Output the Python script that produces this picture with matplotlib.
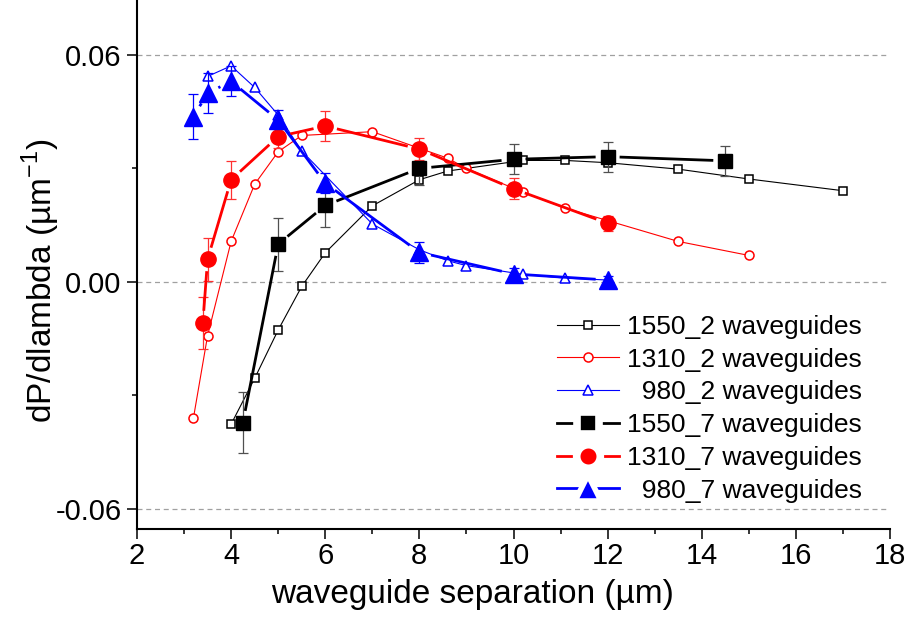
import numpy as np
import matplotlib
matplotlib.use('Agg')
import matplotlib.pyplot as plt
from matplotlib.lines import Line2D
from matplotlib.ticker import MultipleLocator, FormatStrFormatter

plt.rcParams['font.family'] = ['Liberation Sans', 'DejaVu Sans']
plt.rcParams['mathtext.fontset'] = 'custom'
plt.rcParams['mathtext.rm'] = 'Liberation Sans'
plt.rcParams['axes.unicode_minus'] = False

# 2 waveguides (open symbols, thin lines)
x1550_2 = [4, 4.5, 5, 5.5, 6, 7, 8, 8.6, 10.2, 11.1, 12, 13.5, 15, 17]
y1550_2 = [-0.0376, -0.0255, -0.0127, -0.0012, 0.0077, 0.0201, 0.0270, 0.0293,
           0.0321, 0.0321, 0.0315, 0.0298, 0.0272, 0.0241]
x1310_2 = [3.2, 3.5, 4, 4.5, 5, 5.5, 7, 8.6, 9, 10.2, 11.1, 13.5, 15]
y1310_2 = [-0.0359, -0.0142, 0.0107, 0.0258, 0.0344, 0.0387, 0.0397, 0.0327,
           0.0300, 0.0237, 0.0195, 0.0107, 0.0070]
x980_2 = [3.5, 4, 4.5, 5, 5.5, 7, 8, 8.6, 9, 10.2, 11.1, 12]
y980_2 = [0.0543, 0.0571, 0.0514, 0.0441, 0.0346, 0.0153, 0.0085, 0.0056,
          0.0043, 0.0020, 0.0010, 0.0005]

# 7 waveguides (filled symbols, thick lines, error bars)
x1550_7 = [4.25, 5, 6, 8, 10, 12, 14.5]
y1550_7 = [-0.0372, 0.0100, 0.0202, 0.0300, 0.0324, 0.0331, 0.0320]
e1550_7 = [0.0080, 0.0070, 0.0058, 0.0045, 0.0040, 0.0040, 0.0040]
x1310_7 = [3.4, 3.5, 4, 5, 6, 8, 10, 12]
y1310_7 = [-0.0108, 0.0060, 0.0270, 0.0384, 0.0412, 0.0351, 0.0246, 0.0155]
e1310_7 = [0.0069, 0.0057, 0.0050, 0.0030, 0.0040, 0.0030, 0.0028, 0.0020]
x980_7 = [3.2, 3.5, 4, 5, 6, 8, 10, 12]
y980_7 = [0.0437, 0.0499, 0.0530, 0.0428, 0.0261, 0.0078, 0.0021, 0.0005]
e980_7 = [0.0060, 0.0052, 0.0040, 0.0025, 0.0027, 0.0028, 0.0015, 0.0010]

labels = ['1550_2 waveguides', '1310_2 waveguides', '  980_2 waveguides',
          '1550_7 waveguides', '1310_7 waveguides', '  980_7 waveguides']

fig = plt.figure(figsize=(9.11, 6.23), dpi=100)
ax = fig.add_axes([137 / 911, 1 - 529 / 623, 753 / 911, 529 / 623])
ax.set_xlim(2, 18)
ax.set_ylim(-0.0653, 0.0745)


def gapped_line(x, y, color, lw, gap=12):
    # Origin-style: line segments stop short of the symbols (gap in pixels)
    pts = ax.transData.transform(np.column_stack([x, y]))
    inv = ax.transData.inverted()
    for p0, p1 in zip(pts[:-1], pts[1:]):
        d = p1 - p0
        L = np.hypot(*d)
        if L <= 2 * gap:
            continue
        u = d / L
        seg = inv.transform([p0 + u * gap, p1 - u * gap])
        ax.plot(seg[:, 0], seg[:, 1], color=color, lw=lw,
                solid_capstyle='butt', zorder=3)


# open series
ax.plot(x1550_2, y1550_2, color='black', lw=0.8, marker='s', ms=6,
        mfc='white', mec='black', mew=1.1, zorder=2)
ax.plot(x1310_2, y1310_2, color='red', lw=0.8, marker='o', ms=6.5,
        mfc='white', mec='red', mew=1.1, zorder=2)
ax.plot(x980_2, y980_2, color='blue', lw=0.8, marker='^', ms=7.5,
        mfc='white', mec='blue', mew=1.1, zorder=2)

# filled series
filled = [(x1550_7, y1550_7, e1550_7, 'black', '#505050', 's', 10),
          (x1310_7, y1310_7, e1310_7, 'red', '#ff3030', 'o', 11),
          (x980_7, y980_7, e980_7, 'blue', 'blue', '^', 13)]
for x, y, e, c, ec, m, ms in filled:
    ax.errorbar(x, y, yerr=e, fmt='none', ecolor=ec, elinewidth=0.9,
                capsize=3.8, capthick=0.9, zorder=3)
    gapped_line(x, y, c, 2.0)
    ax.plot(x, y, linestyle='none', marker=m, ms=ms, color=c, mec=c, zorder=4)

# axes styling
for s in ['top', 'right']:
    ax.spines[s].set_visible(False)
for s in ['left', 'bottom']:
    ax.spines[s].set_linewidth(1.5)
ax.xaxis.set_major_locator(MultipleLocator(2))
ax.xaxis.set_minor_locator(MultipleLocator(1))
ax.yaxis.set_major_locator(MultipleLocator(0.06))
ax.yaxis.set_minor_locator(MultipleLocator(0.03))
ax.yaxis.set_major_formatter(FormatStrFormatter('%.2f'))
ax.tick_params(which='major', direction='out', length=7.2, width=1.1,
               labelsize=21, pad=2.5)
ax.tick_params(axis='y', which='major', pad=3.8)
ax.tick_params(which='minor', direction='out', length=3.6, width=1.1)
ax.yaxis.grid(True, which='major', color='#a0a0a0', lw=0.9,
              linestyle=(0, (4, 3)))
ax.set_axisbelow(True)

ax.set_xlabel('waveguide separation (µm)', fontsize=24)
ax.xaxis.set_label_coords(0.4455, -0.094)
ax.set_ylabel('dP/dlambda (µm$^{-1}$)', fontsize=24)
ax.yaxis.set_label_coords(-0.10, 0.47)

# legend
handles = [
    Line2D([], [], color='black', lw=0.8, marker='s', ms=6, mfc='white', mew=1.1),
    Line2D([], [], color='red', lw=0.8, marker='o', ms=6.5, mfc='white', mew=1.1),
    Line2D([], [], color='blue', lw=0.8, marker='^', ms=7.5, mfc='white', mew=1.1),
    Line2D([], [], color='black', lw=2.0, marker='s', ms=16.5, mfc='black',
           mec='white', mew=5.5),
    Line2D([], [], color='red', lw=2.0, marker='o', ms=17, mfc='red',
           mec='white', mew=5.5),
    Line2D([], [], color='blue', lw=2.0, marker='^', ms=19, mfc='blue',
           mec='white', mew=4),
]
ax.legend(handles, labels, loc='upper left',
          bbox_to_anchor=(557 / 911, 1 - 315 / 623),
          bbox_transform=fig.transFigure, frameon=False, fontsize=19,
          borderpad=0, borderaxespad=0, handlelength=2.35, handletextpad=0.3,
          labelspacing=0.33)

fig.savefig('out.png', dpi=100)
